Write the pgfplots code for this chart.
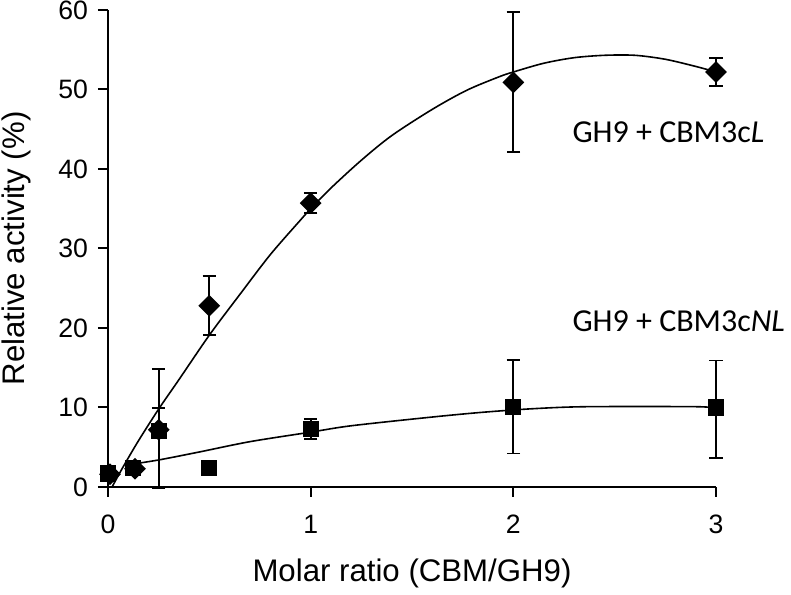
\documentclass[border=0pt]{standalone}
\usepackage{pgfplots}
\pgfplotsset{compat=1.18}
\usepackage{fontspec}
\setmainfont{Liberation Sans}
\newfontfamily\calibri{Carlito}
\begin{document}
\begin{tikzpicture}
\begin{axis}[name=ax, scale only axis, width=304pt, height=238.5pt,
  xmin=0, xmax=3, ymin=0, ymax=60,
  axis lines=left, axis line style={-, line width=1pt, black},
  xtick={0,1,2,3}, ytick={0,10,20,30,40,50,60},
  tick align=outside, major tick length=5pt,
  tick style={black, line width=1pt},
  xticklabel style={font=\fontsize{13.3}{15}\selectfont, yshift=-5.5pt},
  yticklabel style={font=\fontsize{13.3}{15}\selectfont, xshift=-1.5pt},
  /pgf/number format/assume math mode=true,
  xlabel={Molar ratio (CBM/GH9)}, ylabel={Relative activity (\%)},
  every axis x label/.style={at={(axis description cs:0.5,0)}, anchor=center, yshift=-43pt, font=\fontsize{15.6}{18}\selectfont},
  every axis y label/.style={at={(axis description cs:0,0.5)}, anchor=center, xshift=-46pt, rotate=90, font=\fontsize{15.6}{18}\selectfont},
  clip=false]

% fitted curve GH9 + CBM3cL
\addplot[black, line width=0.8pt, smooth] coordinates {
(0.02,0) (0.074,2.5) (0.15,5.8) (0.25,9.8) (0.35,13.5) (0.5,19.1) (0.65,24.2)
(0.8,29.2) (0.947,33.5) (1.0,35.0) (1.1,37.6) (1.25,41.1) (1.4,44.2) (1.6,47.5)
(1.77,49.9) (1.93,51.6) (2.0,52.2) (2.15,53.3) (2.3,54.0) (2.45,54.3) (2.6,54.3)
(2.75,53.8) (2.9,52.9) (3.0,52.2)};

% fitted curve GH9 + CBM3cNL
\addplot[black, line width=0.8pt, smooth] coordinates {
(0.1,2.8) (0.25,3.4) (0.45,4.4) (0.7,5.7) (1.0,6.9) (1.2,7.7) (1.6,8.8)
(1.85,9.4) (2.1,9.85) (2.36,10.1) (2.9,10.1) (3.0,9.9)};

% CBM3cL data (diamonds)
\addplot[black, line width=0.9pt, only marks, mark=square*, mark size=3.4pt, mark options={rotate=45, fill=black},
  error bars/.cd, y dir=both, y explicit,
  error mark=-,
  error mark options={rotate=90, black, mark size=3.4pt, line width=0.9pt},
  error bar style={black, line width=0.9pt}]
coordinates {
(0.01,1.6) +- (0,0)
(0.133,2.3) +- (0,0)
(0.25,7.2) += (0,2.7) -= (0,0)
(0.5,22.8) +- (0,3.7)
(1,35.7) +- (0,1.25)
(2,50.9) +- (0,8.8)
(3,52.2) +- (0,1.8)
};

% CBM3cNL data (squares)
\addplot[black, line width=0.9pt, only marks, mark=square*, mark size=3.6pt, mark options={fill=black},
  error bars/.cd, y dir=both, y explicit,
  error mark=-,
  error mark options={rotate=90, black, mark size=3.4pt, line width=0.9pt},
  error bar style={black, line width=0.9pt}]
coordinates {
(0,1.7) +- (0,0)
(0.125,2.4) +- (0,0)
(0.25,7.0) += (0,7.8) -= (0,7.2)
(0.5,2.4) +- (0,0.6)
(1,7.3) +- (0,1.3)
(2,10.1) +- (0,5.9)
(3,10.0) += (0,5.9) -= (0,6.4)
};

\node[anchor=base west, inner sep=0, font=\calibri\fontsize{16}{19}\selectfont] at (axis cs:2.29,43.3) {GH9 + CBM3c\textit{L}};
\node[anchor=base west, inner sep=0, font=\calibri\fontsize{16}{19}\selectfont] at (axis cs:2.29,19.6) {GH9 + CBM3c\textit{NL}};
\end{axis}
\pgfresetboundingbox
\path[use as bounding box] ([xshift=-54pt,yshift=-54pt]ax.south west) rectangle ([xshift=37.5pt,yshift=5pt]ax.north east);
\end{tikzpicture}
\end{document}
